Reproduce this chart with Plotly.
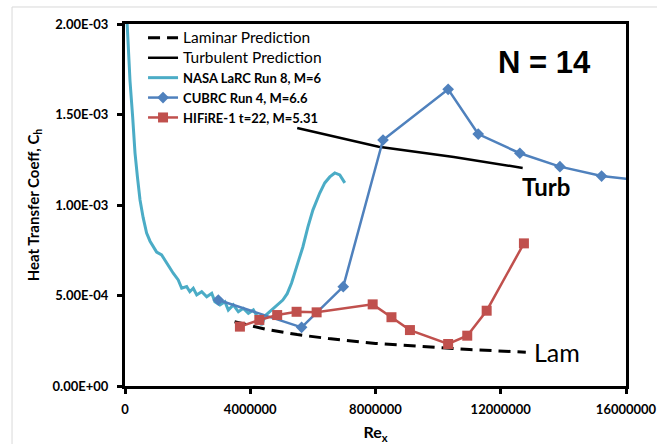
import plotly.graph_objects as go

# Laminar / turbulent predictions
lam_x = [3.5e6, 4.5e6, 5.5e6, 6.5e6, 8.0e6, 9.5e6, 11.0e6, 12.8e6]
lam_y = [3.55e-4, 3.13e-4, 2.84e-4, 2.62e-4, 2.35e-4, 2.17e-4, 2.01e-4, 1.87e-4]

turb_x = [5.5e6, 8.1e6, 10.5e6, 12.7e6]
turb_y = [1.425e-3, 1.322e-3, 1.265e-3, 1.205e-3]

# NASA LaRC Run 8, M=6
nasa_x = [0.04e6, 0.10e6, 0.16e6, 0.245e6, 0.32e6, 0.40e6, 0.48e6, 0.58e6, 0.69e6,
          0.80e6, 1.01e6, 1.17e6, 1.33e6, 1.54e6, 1.70e6, 1.81e6, 1.97e6, 2.07e6,
          2.18e6, 2.29e6, 2.45e6, 2.61e6, 2.77e6, 2.87e6, 3.03e6, 3.19e6, 3.30e6,
          3.46e6, 3.62e6, 3.78e6, 3.94e6, 4.10e6, 4.25e6, 4.37e6, 4.47e6, 4.68e6,
          4.82e6, 5.04e6, 5.18e6, 5.32e6, 5.52e6, 5.68e6, 5.84e6, 6.00e6, 6.22e6,
          6.38e6, 6.54e6, 6.70e6, 6.86e6, 7.02e6]
nasa_y = [2.10e-3, 1.90e-3, 1.685e-3, 1.486e-3, 1.287e-3, 1.15e-3, 1.028e-3, 0.93e-3, 0.845e-3,
          0.80e-3, 0.74e-3, 0.724e-3, 0.678e-3, 0.623e-3, 0.586e-3, 0.54e-3, 0.549e-3, 0.521e-3,
          0.54e-3, 0.503e-3, 0.521e-3, 0.493e-3, 0.512e-3, 0.466e-3, 0.448e-3, 0.466e-3, 0.42e-3,
          0.448e-3, 0.41e-3, 0.429e-3, 0.402e-3, 0.42e-3, 0.376e-3, 0.337e-3, 0.387e-3, 0.42e-3,
          0.442e-3, 0.475e-3, 0.51e-3, 0.569e-3, 0.68e-3, 0.768e-3, 0.878e-3, 0.972e-3, 1.066e-3,
          1.122e-3, 1.155e-3, 1.177e-3, 1.166e-3, 1.122e-3]

# CUBRC Run 4, M=6.6
cubrc_x = [2.98e6, 5.64e6, 6.97e6, 8.24e6, 10.32e6, 11.28e6, 12.61e6, 13.89e6, 15.22e6, 16.5e6]
cubrc_y = [4.75e-4, 3.24e-4, 5.49e-4, 1.359e-3, 1.639e-3, 1.392e-3, 1.286e-3, 1.212e-3, 1.16e-3, 1.135e-3]

# HIFiRE-1 t=22, M=5.31
hifire_x = [3.67e6, 4.29e6, 4.86e6, 5.48e6, 6.12e6, 7.91e6, 8.51e6, 9.10e6, 10.32e6, 10.93e6, 11.55e6, 12.74e6]
hifire_y = [3.28e-4, 3.65e-4, 3.92e-4, 4.10e-4, 4.07e-4, 4.51e-4, 3.80e-4, 3.09e-4, 2.32e-4, 2.78e-4, 4.16e-4, 7.88e-4]

x_ticks = [0, 4000000, 8000000, 12000000, 16000000]
x_labels = ["<b>0</b>", "<b>4000000</b>", "<b>8000000</b>", "<b>12000000</b>", "<b>16000000</b>"]
y_ticks = [0, 5e-4, 1e-3, 1.5e-3, 2e-3]
y_labels = ["<b>0.00E+00</b>", "<b>5.00E-04</b>", "<b>1.00E-03</b>", "<b>1.50E-03</b>", "<b>2.00E-03</b>"]

big = '<span style="font-size:15.5px">%s</span>'
small = '<b><span style="font-size:13px">%s</span></b>'

fig = go.Figure()
fig.add_trace(go.Scatter(x=lam_x, y=lam_y, mode="lines", name=big % "Laminar Prediction",
                         line=dict(color="black", width=3, dash="12px,7px")))
fig.add_trace(go.Scatter(x=turb_x, y=turb_y, mode="lines", name=big % "Turbulent Prediction",
                         line=dict(color="black", width=2.5)))
fig.add_trace(go.Scatter(x=nasa_x, y=nasa_y, mode="lines", name=small % "NASA LaRC Run 8, M=6",
                         line=dict(color="#4BACC6", width=3)))
fig.add_trace(go.Scatter(x=cubrc_x, y=cubrc_y, mode="lines+markers", name=small % "CUBRC Run 4, M=6.6",
                         line=dict(color="#4F81BD", width=2.5),
                         marker=dict(symbol="diamond", size=9, color="#4F81BD")))
fig.add_trace(go.Scatter(x=hifire_x, y=hifire_y, mode="lines+markers", name=small % "HIFiRE-1 t=22, M=5.31",
                         line=dict(color="#C0504D", width=2.5),
                         marker=dict(symbol="square", size=10, color="#C0504D")))

fig.add_annotation(x=13.4e6, y=1.79e-3, text="<b>N = 14</b>", showarrow=False,
                   font=dict(family="Liberation Sans", size=31, color="black"))
fig.add_annotation(x=13.45e6, y=1.1e-3, text="<b>Turb</b>", showarrow=False,
                   font=dict(family="Lato", size=24, color="black"))
fig.add_annotation(x=13.8e6, y=1.87e-4, text="Lam", showarrow=False,
                   font=dict(family="Lato", size=25, color="black"))

# light chart-area border
fig.add_shape(type="rect", xref="paper", yref="paper", x0=-0.2255, x1=1.2, y0=-0.3, y1=1.047,
              line=dict(color="#D9D9D9", width=1), layer="below")

fig.update_layout(
    width=657, height=444,
    margin=dict(l=125, r=31, t=24, b=58),
    paper_bgcolor="white", plot_bgcolor="white",
    font=dict(family="Lato", color="black"),
    showlegend=True,
    legend=dict(x=0.036, y=1.003, xanchor="left", yanchor="top",
                bgcolor="rgba(0,0,0,0)", font=dict(size=13, family="Lato", color="black"),
                tracegroupgap=0, itemwidth=30),
    xaxis=dict(range=[0, 16000000], tickvals=x_ticks, ticktext=x_labels, automargin=False,
               showgrid=False, zeroline=False, showline=True, linecolor="black",
               linewidth=3, mirror=True, ticks="outside", ticklen=5, tickwidth=3,
               tickcolor="black", tickfont=dict(size=13, family="Lato"), ticklabelstandoff=4,
               title=dict(text="<b>Re<sub>x</sub></b>", font=dict(size=16), standoff=12)),
    yaxis=dict(range=[0, 2e-3], tickvals=y_ticks, ticktext=y_labels, automargin=False,
               showgrid=False, zeroline=False, showline=True, linecolor="black",
               linewidth=3, mirror=True, ticks="outside", ticklen=5, tickwidth=3,
               tickcolor="black", tickfont=dict(size=13, family="Lato"), ticklabelstandoff=6,
               title=dict(text="<b>Heat Transfer Coeff, C<sub>h</sub></b>", font=dict(size=15), standoff=10)),
)

fig.write_html("out.html", config={"displayModeBar": False},
               post_script="document.body.style.margin='0px';")
